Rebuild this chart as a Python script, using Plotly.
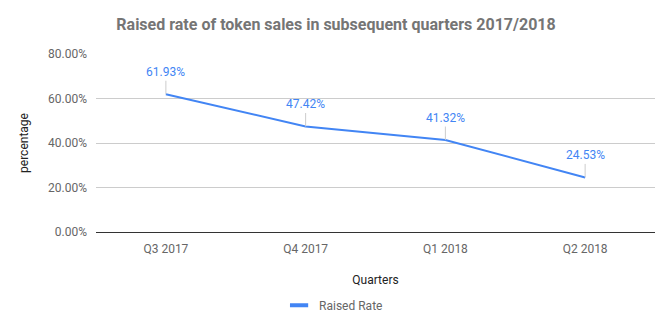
import plotly.graph_objects as go

quarters = ["Q3 2017", "Q4 2017", "Q1 2018", "Q2 2018"]
raised_rate = [0.6193, 0.4742, 0.4132, 0.2453]
y_ticks = [0, 0.2, 0.4, 0.6, 0.8]
series_name = "Raised Rate"

BLUE = "#4285F4"
FONT = "Roboto"

fig = go.Figure()
fig.add_trace(go.Scatter(
    x=quarters, y=raised_rate, mode="lines", name=series_name,
    line=dict(color=BLUE, width=2), showlegend=False, legendgroup="rr",
))
# legend swatch (short thick bar, like the reference)
fig.add_trace(go.Scatter(
    x=[None], y=[None], mode="markers", name=series_name, legendgroup="rr",
    marker=dict(symbol="line-ew", size=13, line=dict(color=BLUE, width=4)),
))

for q, v in zip(quarters, raised_rate):
    fig.add_annotation(
        x=q, y=v, text=f"{v*100:.2f}%", showarrow=True,
        ax=0, ay=-22, arrowhead=0, arrowwidth=1, arrowcolor="#cccccc",
        font=dict(family=FONT, size=12, color=BLUE),
    )

fig.update_layout(
    width=672, height=329,
    margin=dict(l=96, r=17, t=54, b=97, autoexpand=False),
    paper_bgcolor="white", plot_bgcolor="white",
    font=dict(family=FONT, size=12, color="#666666"),
    title=dict(text="<b>Raised rate of token sales in subsequent quarters 2017/2018</b>",
               x=0.5, xanchor="center", y=0.925, yanchor="middle",
               font=dict(family=FONT, size=16, color="#757575")),
    showlegend=True,
    legend=dict(orientation="h", x=0.425, xanchor="center", y=-0.33, yanchor="top",
                font=dict(family=FONT, size=12, color="#666666")),
    xaxis=dict(
        range=[-0.5, 3.5], automargin=False,
        showgrid=False, showline=False, zeroline=False, ticks="",
        ticklabelstandoff=8,
        tickfont=dict(family=FONT, size=12, color="#666666"),
        title=dict(text="Quarters", font=dict(family=FONT, size=12, color="#222222"), standoff=20),
    ),
    yaxis=dict(
        range=[0, 0.8], tickvals=y_ticks, tickformat=".2%", automargin=False,
        showgrid=True, gridcolor="#cccccc", gridwidth=1,
        zeroline=True, zerolinecolor="#333333", zerolinewidth=1,
        ticks="", ticklen=0, ticklabelstandoff=8,
        tickfont=dict(family=FONT, size=12, color="#666666"),
        title=dict(text="percentage", font=dict(family=FONT, size=12, color="#222222"), standoff=16),
    ),
)

fig.write_html("out.html")
